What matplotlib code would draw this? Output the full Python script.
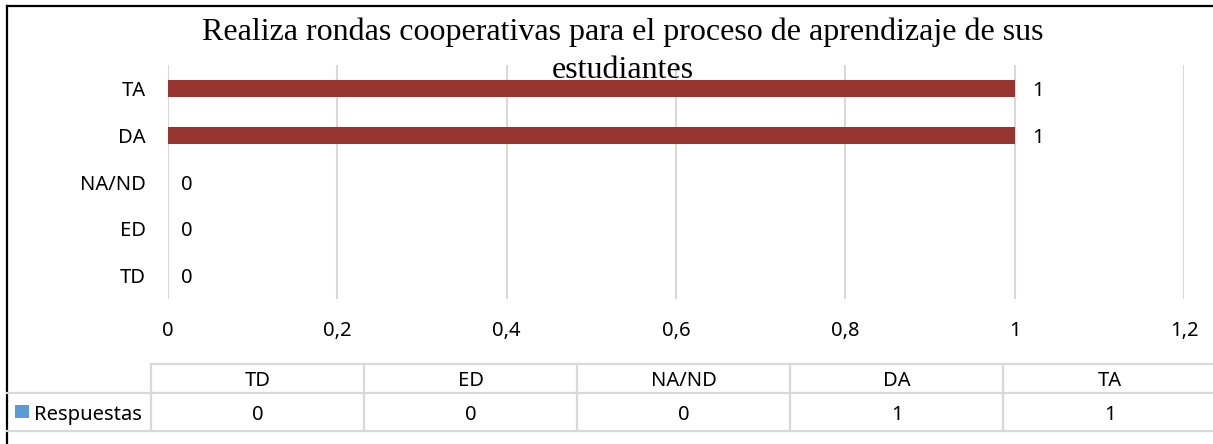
import matplotlib
matplotlib.use("Agg")
import matplotlib.pyplot as plt
from matplotlib.lines import Line2D
from matplotlib.patches import Rectangle

categories = ["TD", "ED", "NA/ND", "DA", "TA"]
values = [0, 0, 0, 1, 1]
xticks = [0, 0.2, 0.4, 0.6, 0.8, 1.0, 1.2]
xtick_labels = ["0", "0,2", "0,4", "0,6", "0,8", "1", "1,2"]
title = "Realiza rondas cooperativas para el proceso de aprendizaje de sus\nestudiantes"
series_name = "Respuestas"

W, H = 1213, 444
fig = plt.figure(figsize=(W / 100, H / 100), dpi=100)
fig.patch.set_facecolor("white")

def fx(x):
    return x / W

def fy(y):
    return 1 - y / H

FONT = "Noto Sans"
FS = 14.5
GRID = "#d9d9d9"
BAR = "#963430"

ax = fig.add_axes([fx(168), fy(299), fx(1184) - fx(168), fy(65) - fy(299)])
ypos = list(range(len(categories)))
ax.barh(ypos, values, height=0.36, color=BAR)
ax.set_xlim(0, 1.2)
ax.set_ylim(-0.5, len(categories) - 0.5)
ax.set_xticks(xticks)
ax.set_xticklabels(xtick_labels, fontsize=FS, family=FONT)
ax.set_yticks(ypos)
ax.set_yticklabels(categories, fontsize=FS, family=FONT)
ax.tick_params(axis="both", length=0)
ax.tick_params(axis="x", pad=16)
ax.tick_params(axis="y", pad=16)
ax.grid(axis="x", color=GRID, linewidth=1.5)
ax.set_axisbelow(True)
for s in ax.spines.values():
    s.set_visible(False)

for yp, v in zip(ypos, values):
    off = 17 if v > 0 else 13
    ax.annotate(str(v), xy=(v, yp), xytext=(off, 0), textcoords="offset pixels",
                ha="left", va="center_baseline", fontsize=FS, family=FONT)

for line, base in zip(title.split("\n"), [40, 78]):
    fig.text(fx(623), fy(base), line, ha="center", va="baseline", fontsize=23,
             family="Liberation Serif")

# Frame (top and left border)
fig.add_artist(Line2D([fx(7), fx(1213)], [fy(6), fy(6)], color="black", lw=1.6))
fig.add_artist(Line2D([fx(7), fx(7)], [fy(6), fy(444)], color="black", lw=1.6))

# Data table
col_edges = [151 + 213 * i for i in range(len(categories) + 1)]
y_top, y_mid, y_bot = 364, 393, 431
lw = 1.6
fig.add_artist(Line2D([fx(151), fx(1213)], [fy(y_top), fy(y_top)], color=GRID, lw=lw))
fig.add_artist(Line2D([fx(7), fx(1213)], [fy(y_mid), fy(y_mid)], color=GRID, lw=lw))
fig.add_artist(Line2D([fx(7), fx(1213)], [fy(y_bot), fy(y_bot)], color=GRID, lw=lw))
for xe in col_edges[:-1]:
    fig.add_artist(Line2D([fx(xe), fx(xe)], [fy(y_top), fy(y_bot)], color=GRID, lw=lw))

for i, (c, v) in enumerate(zip(categories, values)):
    xc = (col_edges[i] + col_edges[i + 1]) / 2
    fig.text(fx(xc), fy((y_top + y_mid) / 2), c, ha="center", va="center_baseline",
             fontsize=FS, family=FONT)
    fig.text(fx(xc), fy((y_mid + y_bot) / 2), str(v), ha="center", va="center_baseline",
             fontsize=FS, family=FONT)

fig.add_artist(Rectangle((fx(15), fy(418)), fx(14), fy(405) - fy(418),
                         facecolor="#5b9bd5", edgecolor="none"))
fig.text(fx(34), fy((y_mid + y_bot) / 2), series_name, ha="left", va="center_baseline",
         fontsize=FS, family=FONT)

fig.savefig("out.png", dpi=100)
